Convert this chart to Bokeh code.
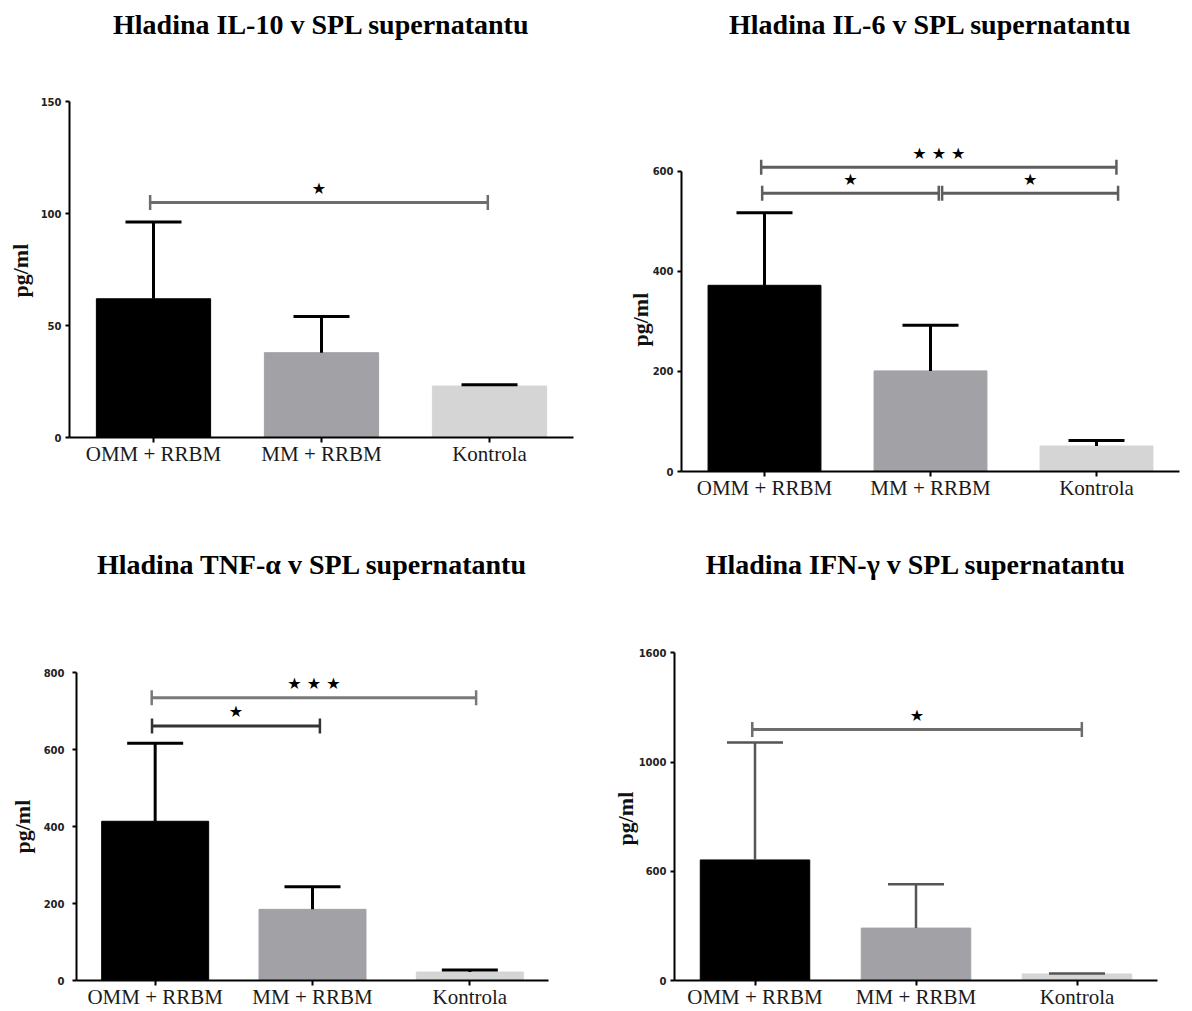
import numpy as np
from bokeh.plotting import figure
from bokeh.models import FixedTicker, Range1d, Title
from bokeh.layouts import column, row
from bokeh.embed import file_html
from bokeh.resources import INLINE
from bokeh.core.properties import value

# ---------------- data ----------------
categories = ["OMM + RRBM", "MM + RRBM", "Kontrola"]

il10_mean = [62.0, 37.9, 23.0]
il10_err = [34.3, 16.2, 0.6]
il10_ticks = [0, 50, 100, 150]
il10_tick_labels = ["0", "50", "100", "150"]
il10_sig_start = [0.48]
il10_sig_end = [2.49]
il10_sig_y = [105]
il10_sig_text = ["★"]

il6_mean = [372, 201, 51]
il6_err = [145, 91, 11]
il6_ticks = [0, 200, 400, 600]
il6_tick_labels = ["0", "200", "400", "600"]
il6_sig_start = [0.48, 0.486, 1.57]
il6_sig_end = [2.62, 1.55, 2.63]
il6_sig_y = [608, 556, 556]
il6_sig_text = ["★ ★ ★", "★", "★"]

tnf_mean = [414, 185, 22]
tnf_err = [203, 59, 5]
tnf_ticks = [0, 200, 400, 600, 800]
tnf_tick_labels = ["0", "200", "400", "600", "800"]
tnf_sig_start = [0.478, 0.48]
tnf_sig_end = [2.54, 1.547]
tnf_sig_y = [735, 662]
tnf_sig_text = ["★ ★ ★", "★"]

ifn_mean = [552, 240, 30]
ifn_err = [538, 201, 2]
ifn_ticks = [0, 500, 1000, 1500]
ifn_tick_labels = ["0", "600", "1000", "1600"]
ifn_sig_start = [0.483]
ifn_sig_end = [2.53]
ifn_sig_y = [1149]
ifn_sig_text = ["★"]

# ---------------- styling ----------------
BAR_COLORS = ["#000000", "#a2a1a6", "#d5d5d5"]
BAR_LINES = ["#000000", "#a2a1a6", "#d5d5d5"]
SERIF = "Liberation Serif"


def panel(title, means, errs, ticks, tick_labels, s_start, s_end, s_y, s_text,
          s_colors, geom, err_color, err_width, tick_standoff, ylab_standoff, ylab_offset):
    w, h, bl, br, bt, bb, y_end = geom
    p = figure(width=w, height=h, x_range=Range1d(0, 3), y_range=Range1d(0, y_end),
               output_backend="svg", toolbar_location=None,
               min_border_left=bl, min_border_right=br,
               min_border_top=bt, min_border_bottom=bb, title=title)
    p.outline_line_color = None
    p.grid.visible = False
    p.background_fill_color = "white"
    p.border_fill_color = "white"

    xs = [i + 0.5 for i in range(len(categories))]
    tops = [m + e for m, e in zip(means, errs)]

    p.vbar(x=xs, top=means, bottom=0, width=0.68, fill_color=BAR_COLORS,
           line_color=BAR_LINES, line_width=1)
    p.segment(x0=xs, y0=means, x1=xs, y1=tops, line_color=err_color, line_width=err_width)
    p.scatter(x=xs, y=tops, marker="dash", size=56, line_color=err_color,
              line_width=err_width)

    # significance brackets
    p.segment(x0=s_start, y0=s_y, x1=s_end, y1=s_y, line_color=s_colors, line_width=3)
    p.scatter(x=s_start + s_end, y=s_y + s_y, marker="dash", angle=np.pi / 2, size=15,
              line_color=s_colors + s_colors, line_width=2.5)
    mids = [(a + b) / 2 for a, b in zip(s_start, s_end)]
    p.text(x=mids, y=s_y, text=s_text, y_offset=-14, text_align="center",
           text_baseline="middle", text_font=value("DejaVu Sans"),
           text_font_size="16px", text_color="black")

    # title
    p.title.text_font = SERIF
    p.title.text_font_size = "28px"
    p.title.text_font_style = "bold"
    p.title.text_color = "black"
    p.title.align = "center"
    p.title.standoff = 12

    # axes
    for ax in (p.xaxis[0], p.yaxis[0]):
        ax.axis_line_width = 2
        ax.axis_line_color = "black"
        ax.major_tick_line_width = 2
        ax.major_tick_line_color = "black"
        ax.major_tick_in = 0
        ax.minor_tick_line_color = None

    p.yaxis.ticker = FixedTicker(ticks=ticks)
    p.yaxis.bounds = (ticks[0], ticks[-1])
    p.yaxis.major_label_overrides = {t: l for t, l in zip(ticks, tick_labels)}
    p.yaxis.major_label_text_font = "DejaVu Sans"
    p.yaxis.major_label_text_font_style = "bold"
    p.yaxis.major_label_text_font_size = "10px"
    p.yaxis.major_label_text_color = "#222222"
    p.yaxis.major_tick_out = 4
    p.yaxis.major_label_standoff = tick_standoff

    # y-axis title, placed beside the axis and centred on the axis line
    p.add_layout(Title(text="pg/ml", align="left", offset=ylab_offset,
                       vertical_align="bottom", standoff=ylab_standoff,
                       text_font=SERIF, text_font_style="bold",
                       text_font_size="22px", text_color="#111111"), "left")

    p.xaxis.ticker = FixedTicker(ticks=xs)
    p.xaxis.major_label_overrides = {x: c for x, c in zip(xs, categories)}
    p.xaxis.major_label_text_font = SERIF
    p.xaxis.major_label_text_font_size = "21px"
    p.xaxis.major_label_text_color = "#1a1a1a"
    p.xaxis.major_tick_out = 5
    p.xaxis.major_label_standoff = -1
    return p


# geometry: width, height, border_left, border_right, border_top, border_bottom, y_end
p1 = panel("Hladina IL-10 v SPL supernatantu", il10_mean, il10_err, il10_ticks,
           il10_tick_labels, il10_sig_start, il10_sig_end, il10_sig_y, il10_sig_text,
           ["#6d6d6d"], (596, 510, 69, 23, 44, 73, 175.2), "black", 3, 4, 9, 140)
p2 = panel("Hladina IL-6 v SPL supernatantu", il6_mean, il6_err, il6_ticks,
           il6_tick_labels, il6_sig_start, il6_sig_end, il6_sig_y, il6_sig_text,
           ["#5e5e5e", "#5e5e5e", "#5e5e5e"], (596, 510, 85, 13, 44, 39, 851.1),
           "black", 3, 4, -6, 125)
p3 = panel("Hladina TNF-α v SPL supernatantu", tnf_mean, tnf_err, tnf_ticks,
           tnf_tick_labels, tnf_sig_start, tnf_sig_end, tnf_sig_y, tnf_sig_text,
           ["#7a7a7a", "#333333"], (596, 501, 76, 48, 75, 29, 1027), "black", 3, 8, 12, 127)
p4 = panel("Hladina IFN-γ v SPL supernatantu", ifn_mean, ifn_err, ifn_ticks,
           ifn_tick_labels, ifn_sig_start, ifn_sig_end, ifn_sig_y, ifn_sig_text,
           ["#6d6d6d"], (596, 501, 78, 35, 75, 29, 1808.6), "#555555", 2.5, 4, -4, 135)

# each plot wrapped in its own column so that frames are not aligned across a row
layout = column(row(column(p1), column(p2), spacing=0),
                row(column(p3), column(p4), spacing=0), spacing=0)

open("out.html", "w").write(file_html(layout, INLINE))
